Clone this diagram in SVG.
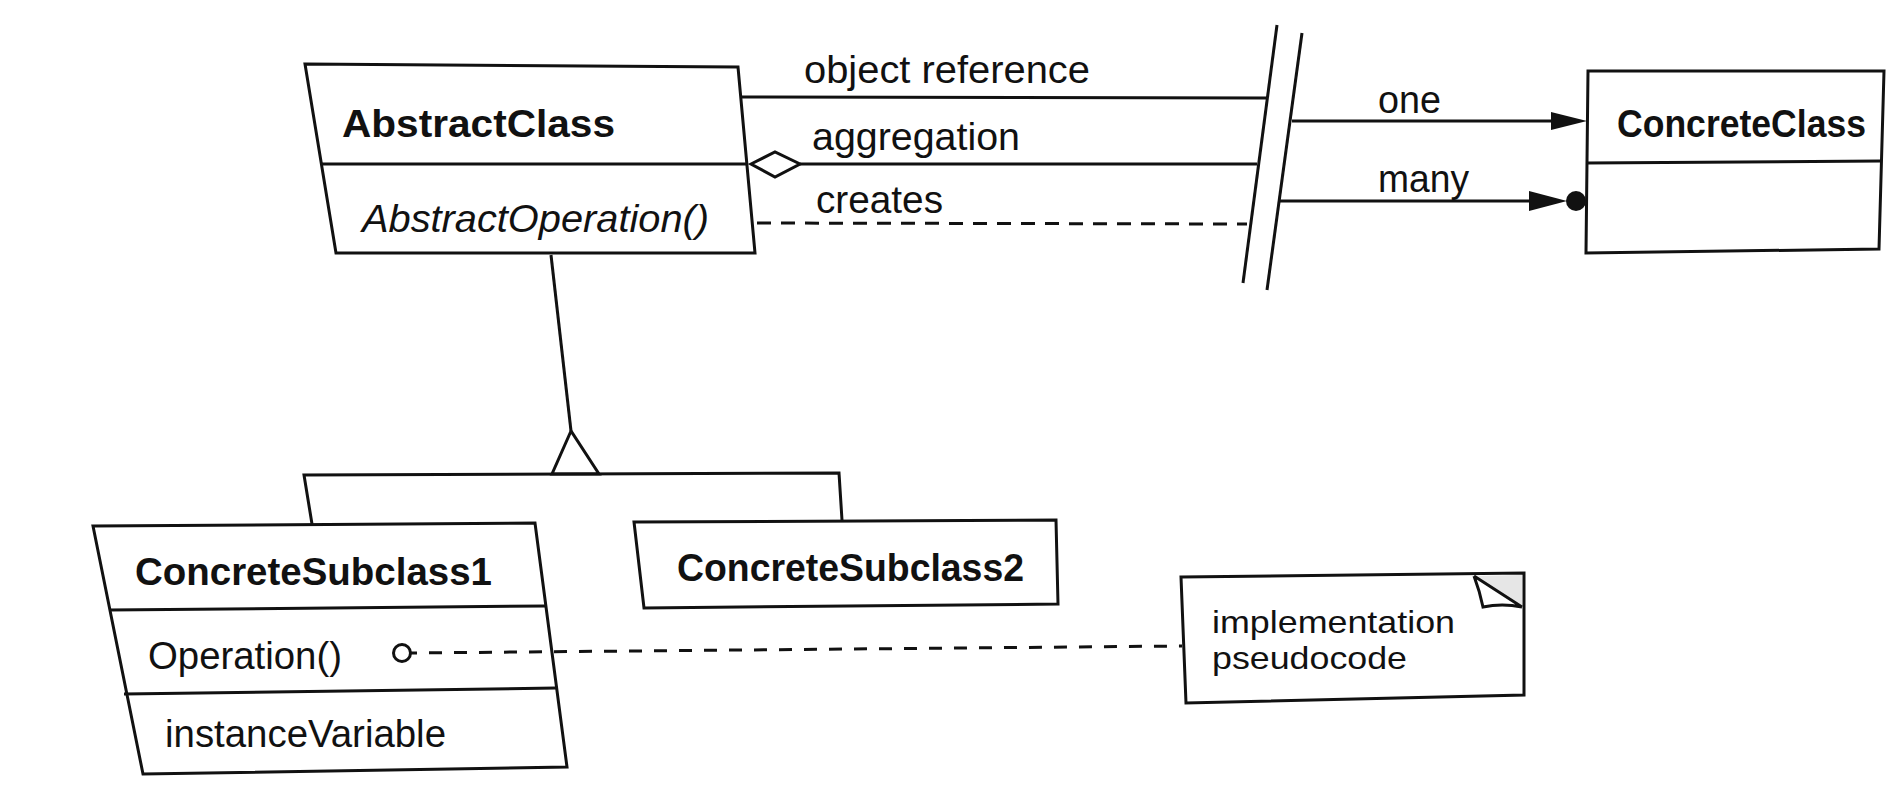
<svg xmlns="http://www.w3.org/2000/svg" width="1888" height="800" viewBox="0 0 1888 800">
<style>
.box{fill:#fff;stroke:#111;stroke-width:3;stroke-linejoin:miter}
.ln{stroke:#111;stroke-width:3;fill:none}
.dash{stroke:#111;stroke-width:3;fill:none;stroke-dasharray:14 10}
.t{font-family:"Liberation Sans",Arial,sans-serif;font-size:38px;fill:#111}
.b{font-weight:bold}
.i{font-style:italic}
.s{font-size:32px}
</style>
<rect width="1888" height="800" fill="#fff"/>
<g id="AbstractClass">
  <polygon class="box" points="305,64 738,67 755,253 336,253"/>
  <line class="ln" x1="321" y1="164" x2="748" y2="164"/>
  <text class="t b" x="342" y="137" textLength="273" lengthAdjust="spacingAndGlyphs">AbstractClass</text>
  <text class="t i" x="362" y="232" textLength="347" lengthAdjust="spacingAndGlyphs">AbstractOperation()</text>
</g>
<g id="ConcreteClass">
  <polygon class="box" points="1588,71 1884,71 1879,249 1586,253"/>
  <line class="ln" x1="1587" y1="163" x2="1881" y2="161"/>
  <text class="t b" x="1617" y="137" textLength="249" lengthAdjust="spacingAndGlyphs">ConcreteClass</text>
</g>
<g id="ConcreteSubclass1">
  <polygon class="box" points="93,526 535,523 567,767 143,774"/>
  <line class="ln" x1="109" y1="610" x2="546" y2="606"/>
  <line class="ln" x1="124" y1="694" x2="556" y2="688"/>
  <text class="t b" x="135" y="585" textLength="357" lengthAdjust="spacingAndGlyphs">ConcreteSubclass1</text>
  <text class="t" x="148" y="669" textLength="194" lengthAdjust="spacingAndGlyphs">Operation()</text>
  <text class="t" x="165" y="747" textLength="281" lengthAdjust="spacingAndGlyphs">instanceVariable</text>
</g>
<g id="ConcreteSubclass2">
  <polygon class="box" points="634,522 1056,520 1058,604 644,608"/>
  <text class="t b" x="677" y="581" textLength="347" lengthAdjust="spacingAndGlyphs">ConcreteSubclass2</text>
</g>
<g id="Note">
  <polygon class="box" points="1181,577 1524,573 1524,695 1186,703"/>
  <polygon points="1474,576 1522,575 1522,607" fill="#e6e6e6"/>
  <path class="ln" d="M1474,576 L1522,607 M1474,576 Q1480,592 1483,607 Q1502,603 1522,607"/>
  <text class="t s" x="1212" y="633" textLength="243" lengthAdjust="spacingAndGlyphs">implementation</text>
  <text class="t s" x="1212" y="669" textLength="195" lengthAdjust="spacingAndGlyphs">pseudocode</text>
</g>
<g id="connectors">
  <line class="ln" x1="740" y1="97" x2="1267" y2="98"/>
  <text class="t" x="804" y="83" textLength="286" lengthAdjust="spacingAndGlyphs">object reference</text>
  <line class="ln" x1="800" y1="164" x2="1257" y2="164"/>
  <polygon class="box" points="751,164 775,152 800,164 775,177"/>
  <text class="t" x="812" y="150" textLength="208" lengthAdjust="spacingAndGlyphs">aggregation</text>
  <line class="dash" x1="757" y1="223" x2="1247" y2="224"/>
  <text class="t" x="816" y="213" textLength="127" lengthAdjust="spacingAndGlyphs">creates</text>
  <line class="ln" x1="1277" y1="25" x2="1243" y2="283"/>
  <line class="ln" x1="1302" y1="33" x2="1267" y2="290"/>
  <line class="ln" x1="1292" y1="121" x2="1555" y2="121"/>
  <polygon fill="#111" points="1551,112 1587,121 1551,130"/>
  <text class="t" x="1378" y="113" textLength="63" lengthAdjust="spacingAndGlyphs">one</text>
  <line class="ln" x1="1280" y1="201" x2="1532" y2="201"/>
  <polygon fill="#111" points="1529,191 1567,201 1529,211"/>
  <circle cx="1576" cy="201" r="10" fill="#111"/>
  <text class="t" x="1378" y="192" textLength="91" lengthAdjust="spacingAndGlyphs">many</text>
  <line class="ln" x1="551" y1="255" x2="571" y2="431"/>
  <polygon class="box" points="571,431 552,474 599,474"/>
  <polyline class="ln" points="312,524 304,475 839,473 842,520"/>
  <circle cx="402" cy="653" r="8.5" fill="none" stroke="#111" stroke-width="3"/>
  <line class="ln" x1="411" y1="653" x2="1182" y2="646" style="stroke-dasharray:13 12;stroke-dashoffset:7"/>
</g>
</svg>
